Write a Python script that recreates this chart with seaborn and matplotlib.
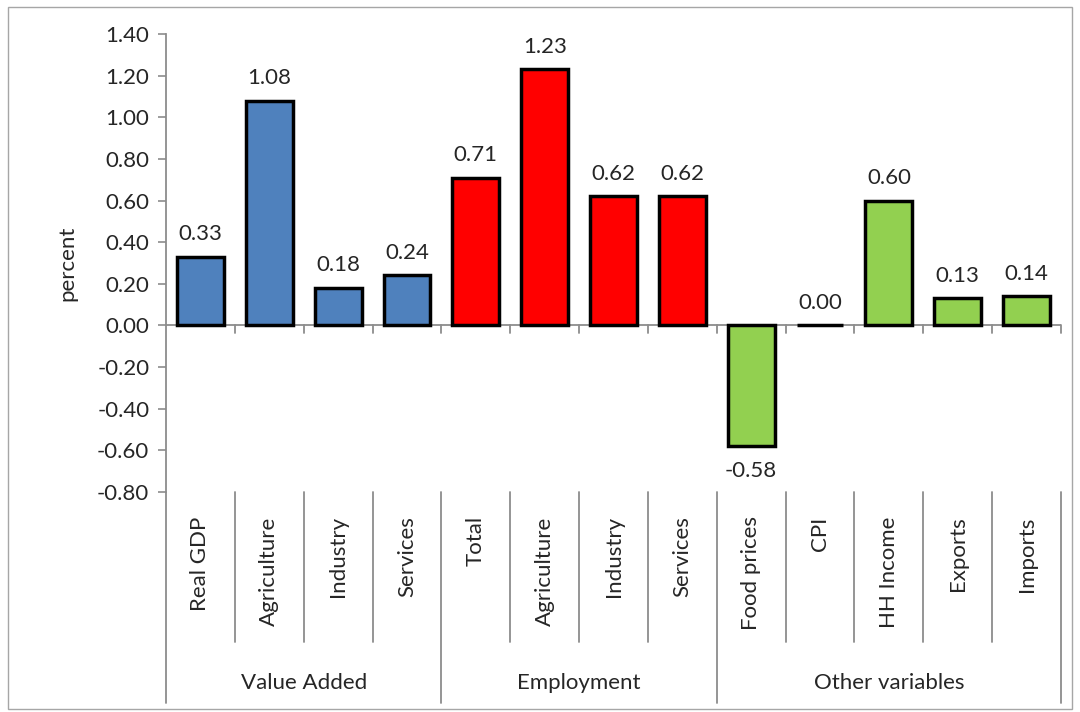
import matplotlib
matplotlib.use("Agg")
import matplotlib.pyplot as plt
from matplotlib.patches import Rectangle
import seaborn as sns
import pandas as pd

# Data
groups = ["Value Added"] * 4 + ["Employment"] * 4 + ["Other variables"] * 5
categories = ["Real GDP", "Agriculture", "Industry", "Services",
              "Total", "Agriculture", "Industry", "Services",
              "Food prices", "CPI", "HH Income", "Exports", "Imports"]
values = [0.33, 1.08, 0.18, 0.24,
          0.71, 1.23, 0.62, 0.62,
          -0.58, 0.00, 0.60, 0.13, 0.14]
group_colors = {"Value Added": "#4F81BD", "Employment": "#FF0000",
                "Other variables": "#92D050"}

sns.set_theme(style="white")
plt.rcParams["font.family"] = ["Lato", "DejaVu Sans"]
plt.rcParams["axes.unicode_minus"] = False
FS = 16

df = pd.DataFrame({"key": [f"{g}|{c}" for g, c in zip(groups, categories)],
                   "group": groups, "category": categories, "value": values})

W, H = 1080, 712
fig = plt.figure(figsize=(W / 100, H / 100), dpi=100)
ax = fig.add_axes([166 / W, 1 - 492 / H, (1061 - 166) / W, (492 - 34) / H])

sns.barplot(data=df, x="key", y="value", hue="group", palette=group_colors,
            dodge=False, width=0.68, edgecolor="black", linewidth=2.5,
            saturation=1, legend=False, ax=ax, order=df["key"], zorder=3)

grey = "#8c8c8c"
ax.set_xlim(-0.5, len(values) - 0.5)
ax.set_ylim(-0.8, 1.4)
ax.set_yticks([round(-0.8 + 0.2 * i, 2) for i in range(12)])
ax.set_yticklabels([f"{t:.2f}" for t in ax.get_yticks()], fontsize=FS)
ax.tick_params(axis="y", length=6, width=1.2, color=grey, pad=6, left=True)
ax.set_xticks([])
ax.set_xlabel("")
ax.set_ylabel("percent", fontsize=FS, labelpad=14)

for s in ["top", "right", "bottom"]:
    ax.spines[s].set_visible(False)
ax.spines["left"].set_color(grey)
ax.spines["left"].set_linewidth(1.3)

# zero line with small ticks between categories
ax.axhline(0, color=grey, lw=1.3, zorder=1)
n = len(values)
xt = ax.get_xaxis_transform()
for k in range(n):
    ax.plot([k + 0.5, k + 0.5], [0, -0.035], color=grey, lw=1.3, clip_on=False, zorder=1)

# value labels
for i, v in enumerate(values):
    if v >= 0:
        ax.annotate(f"{v:.2f}", (i, v), xytext=(0, 9), textcoords="offset points",
                    ha="center", va="bottom", fontsize=FS)
    else:
        ax.annotate(f"{v:.2f}", (i, v), xytext=(0, -11), textcoords="offset points",
                    ha="center", va="top", fontsize=FS)

# category axis area below the plot
cat_bottom = -(642 - 492) / 458
grp_bottom = -(703 - 492) / 458
for k in range(n):
    ax.text(k, -0.053, categories[k], transform=xt, rotation=90,
            ha="center", va="top", fontsize=FS)
bounds = [-0.5]
for k in range(1, n):
    if groups[k] != groups[k - 1]:
        bounds.append(k - 0.5)
    else:
        ax.plot([k - 0.5, k - 0.5], [0, cat_bottom], transform=xt,
                color=grey, lw=1.3, clip_on=False)
bounds.append(n - 0.5)
for b in bounds:
    ax.plot([b, b], [0, grp_bottom], transform=xt, color=grey, lw=1.3, clip_on=False)

# group labels
start = 0
for k in range(1, n + 1):
    if k == n or groups[k] != groups[start]:
        ax.text((start + k - 1) / 2, -(683 - 492) / 458, groups[start],
                transform=xt, ha="center", va="center", fontsize=FS)
        start = k

# outer border
fig.patches.append(Rectangle((8 / W, 1 - 709 / H), (1072 - 8) / W, (709 - 7) / H,
                             transform=fig.transFigure, fill=False,
                             edgecolor="#a6a6a6", lw=1.0))

fig.savefig("out.png", dpi=100)
